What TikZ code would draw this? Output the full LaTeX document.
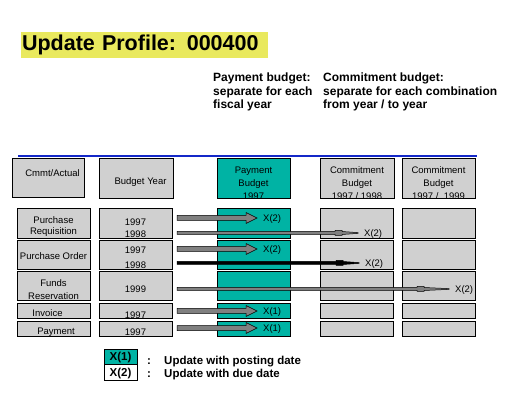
\documentclass[tikz,border=0pt]{standalone}
\usepackage{fontspec}
\setmainfont{Liberation Sans}
\usetikzlibrary{positioning, calc}

\definecolor{paygreen}{RGB}{0,179,164}
\definecolor{boxgray}{RGB}{208,208,208}
\definecolor{arrowgray}{RGB}{128,128,128}
\definecolor{titleyellow}{RGB}{233,233,94}
\definecolor{ruleblue}{RGB}{20,40,200}

\tikzset{
  gbox/.style={draw, fill=boxgray, line width=0.8pt, inner sep=0pt, minimum width=73pt},
  pbox/.style={gbox, fill=paygreen},
  small/.style={font=\fontsize{9.5}{12}\selectfont, align=center, inner sep=0pt},
  cell/.style={small, yshift=-3.5pt},
  xlab/.style={font=\fontsize{9.5}{11}\selectfont, inner sep=0pt, anchor=west},
  note/.style={font=\fontsize{12}{13.7}\selectfont\bfseries, align=left, inner sep=0pt, anchor=base west},
  legtxt/.style={font=\fontsize{11.5}{13.7}\selectfont\bfseries, inner sep=0pt, anchor=base west},
  fat/.style={draw, line width=0.5pt, fill=arrowgray, to path={
    let \p1=(\tikztostart), \p2=(\tikztotarget) in
    (\x1,\y1+2.5pt) -- (\x2-17pt,\y1+2.5pt) -- (\x2-17pt,\y1+5.5pt) -- (\x2-6pt,\y1)
    -- (\x2-17pt,\y1-5.5pt) -- (\x2-17pt,\y1-2.5pt) -- (\x1,\y1-2.5pt) -- cycle}},
  slim/.style={draw, line width=0.5pt, fill=arrowgray, to path={
    let \p1=(\tikztostart), \p2=(\tikztotarget) in
    (\x1,\y1+1.5pt) -- (\x2-13pt-#1,\y1+1.5pt) -- (\x2-13pt-#1,\y1+2.5pt) -- (\x2-6pt-#1,\y1+2.5pt)
    -- (\x2-6pt-#1,\y1+1.5pt) -- (\x2-6pt,\y1+0.4pt) -- (\x2-6pt,\y1-0.4pt) -- (\x2-6pt-#1,\y1-1.5pt)
    -- (\x2-6pt-#1,\y1-2.5pt) -- (\x2-13pt-#1,\y1-2.5pt) -- (\x2-13pt-#1,\y1-1.5pt) -- (\x1,\y1-1.5pt) -- cycle}},
  slim/.default=16pt
}

\begin{document}
\begin{tikzpicture}[x=1pt, y=-1pt]
  \useasboundingbox (0,0) rectangle (522,403);

  % title and notes
  \node[fill=titleyellow, minimum width=247pt, minimum height=26pt, inner sep=0pt, text width=245pt, align=left,
        font=\fontsize{21.5}{24}\selectfont\bfseries] (title) at (144.5,45) {Update Profile: 000400};
  \node[note] (paynote) at (213,109) {Payment budget:\\separate for each\\fiscal year};
  \node[note] (comnote) at (323,109) {Commitment budget:\\separate for each combination\\from year / to year};
  \draw[ruleblue, line width=1.3pt] (18,156) -- (477,156);

  % column heads
  \node[gbox, minimum width=72pt, minimum height=39pt, label={[small, xshift=4.5pt, yshift=4.5pt]center:Cmmt/Actual}] (cmmt) at (48,177.5) {};
  \node[gbox, minimum width=74pt, minimum height=40pt, label={[small, xshift=4.5pt, yshift=-3.5pt]center:Budget Year}] (byear) at (136,178.5) {};
  \node[pbox, minimum height=40pt, path picture={
        \node[small, font=\fontsize{9.5}{13}\selectfont] at ([yshift=-4.5pt]path picture bounding box.center) {Payment\\Budget\\1997};}] (payhd) at (253.5,178.5) {};
  \node[gbox, minimum width=74pt, minimum height=40pt, path picture={
        \node[small, font=\fontsize{9.5}{13}\selectfont] at ([yshift=-4.5pt]path picture bounding box.center) {Commitment\\Budget\\1997 / 1998};}] (c98hd) at (357,178.5) {};
  \node[gbox, minimum height=40pt, path picture={
        \node[small, font=\fontsize{9.5}{13}\selectfont] at ([yshift=-4.5pt]path picture bounding box.center) {Commitment\\Budget\\1997 /\ \ 1999};}] (c99hd) at (438.5,178.5) {};

  % transactions
  \node[gbox, minimum height=29.5pt, label={[cell]center:{Purchase\\[-1pt]Requisition}}] (reqlab) at (53.5,223.25) {};
  \node[gbox, minimum height=29pt, label={[cell, yshift=2pt]center:Purchase Order}] (ordlab) at (53.5,254.5) {};
  \node[gbox, minimum height=29pt, label={[cell]center:{Funds\\[1pt]Reservation}}] (fundlab) at (53.5,286) {};
  \node[gbox, minimum height=15pt, label={[cell, yshift=1pt, xshift=-6pt]center:Invoice}] (invlab) at (53.5,310.5) {};
  \node[gbox, minimum height=15.5pt, label={[cell, xshift=2.5pt]center:Payment}] (paylab) at (53.5,328.75) {};

  % budget years
  \node[gbox, minimum height=29.5pt, label={[cell, yshift=-1pt]center:{1997\\1998}}] (reqyr) at (135.5,223.25) {};
  \node[gbox, minimum height=29pt, label={[cell]center:{1997\\[3pt]1998}}] (ordyr) at (135.5,254.5) {};
  \node[gbox, minimum height=29pt, label={[cell]center:1999}] (fundyr) at (135.5,286) {};
  \node[gbox, minimum height=15pt, label={[cell, yshift=-1pt]center:1997}] (invyr) at (135.5,310.5) {};
  \node[gbox, minimum height=15.5pt, label={[cell]center:1997}] (payyr) at (135.5,328.75) {};

  % payment budget
  \node[pbox, minimum height=29.5pt] (reqpay) at (253.5,223.25) {};
  \node[pbox, minimum height=29pt] (ordpay) at (253.5,254.5) {};
  \node[pbox, minimum height=29pt] (fundpay) at (253.5,286) {};
  \node[pbox, minimum height=15pt] (invpay) at (253.5,310.5) {};
  \node[pbox, minimum height=15.5pt] (paypay) at (253.5,328.75) {};

  % commitment budgets
  \node[gbox, minimum height=29.5pt] (reqc98) at (356.5,223.25) {};
  \node[gbox, minimum height=29pt] (ordc98) at (356.5,254.5) {};
  \node[gbox, minimum height=29pt] (fundc98) at (356.5,286) {};
  \node[gbox, minimum height=15pt] (invc98) at (356.5,310.5) {};
  \node[gbox, minimum height=15.5pt] (payc98) at (356.5,328.75) {};
  \node[gbox, minimum height=29.5pt] (reqc99) at (438.5,223.25) {};
  \node[gbox, minimum height=29pt] (ordc99) at (438.5,254.5) {};
  \node[gbox, minimum height=29pt] (fundc99) at (438.5,286) {};
  \node[gbox, minimum height=15pt] (invc99) at (438.5,310.5) {};
  \node[gbox, minimum height=15.5pt] (payc99) at (438.5,328.75) {};

  % updates
  \coordinate (req97) at (177,218);
  \coordinate (req98) at (177,233);
  \coordinate (ord97) at (177,249);
  \coordinate (ord98) at (177,263);
  \coordinate (fund99) at (177,289);
  \coordinate (inv97) at (177,311);
  \coordinate (pay97) at (177,328);
  \node[xlab] (req97x) at (263,219) {X(2)};
  \node[xlab] (req98x) at (364,234) {X(2)};
  \node[xlab] (ord97x) at (263,250) {X(2)};
  \node[xlab] (ord98x) at (365,264) {X(2)};
  \node[xlab] (fund99x) at (455,290) {X(2)};
  \node[xlab] (inv97x) at (263,312) {X(1)};
  \node[xlab] (pay97x) at (263,329) {X(1)};

  \draw[fat] (req97) to (req97x.west);
  \draw[slim] (req98) to (req98x.west);
  \draw[fat] (ord97) to (ord97x.west);
  \draw[slim, fill=black] (ord98) to (ord98x.west);
  \draw[slim=25pt] (fund99) to (fund99x.west);
  \draw[fat] (inv97) to (inv97x.west);
  \draw[fat] (pay97) to (pay97x.west);

  % legend
  \node[draw, fill=paygreen, minimum width=33pt, minimum height=15pt, inner sep=0pt, text depth=0pt,
        font=\fontsize{11.5}{13}\selectfont\bfseries] (lgpost) at (120.5,356.5) {X(1)};
  \node[draw, fill=white, minimum width=33pt, minimum height=16pt, inner sep=0pt, text depth=0pt,
        font=\fontsize{11.5}{13}\selectfont\bfseries] (lgdue) at (120.5,372) {X(2)};
  \node[legtxt] (postcol) at (147,364) {:};
  \node[legtxt] (posttxt) at (164,364) {Update with posting date};
  \node[legtxt] (duecol) at (147,377.5) {:};
  \node[legtxt] (duetxt) at (164,377.5) {Update with due date};
\end{tikzpicture}
\end{document}
